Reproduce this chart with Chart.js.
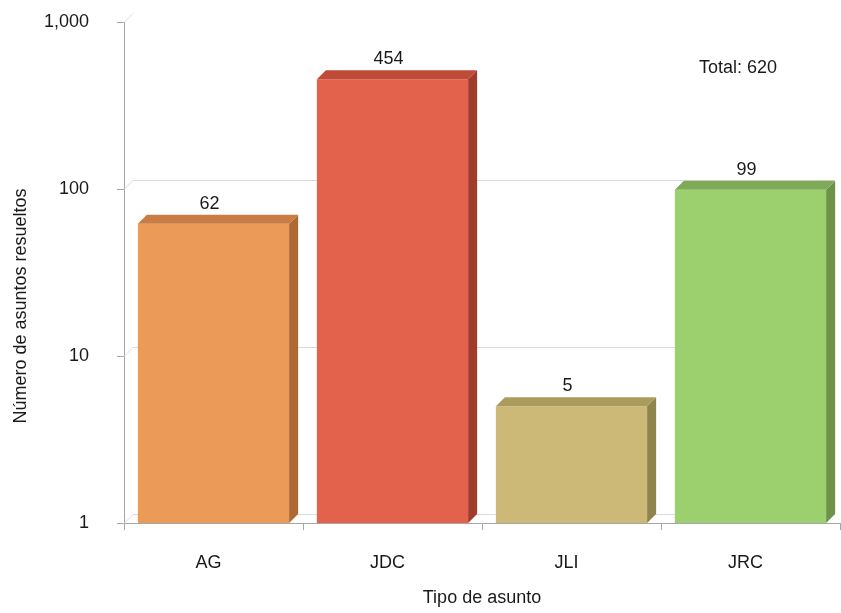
<!DOCTYPE html>
<html>
<head>
<meta charset="utf-8">
<script src="https://cdn.jsdelivr.net/npm/chart.js@4"></script>
<style>
  html, body { margin: 0; padding: 0; background: #fff; }
  #wrap { width: 841px; height: 613px; }
</style>
</head>
<body>
<div id="wrap"><canvas id="chart" width="841" height="613"></canvas></div>
<script>
var fontFamily = '"Liberation Sans", Arial, Helvetica, sans-serif';

var categories = ['AG', 'JDC', 'JLI', 'JRC'];
var values = [62, 454, 5, 99];
var yTicks = [1, 10, 100, 1000];
var frontColors = ['#ec9a58', '#e2624b', '#ccb877', '#9ccf6e'];
var topColors = ['#c97d42', '#c04a38', '#aa9c5c', '#7fab58'];
var sideColors = ['#ad6a33', '#a13b2c', '#8f844c', '#6c9348'];

var depth = 9;
var total = values.reduce(function (a, b) { return a + b; }, 0);

// back wall lines + 3D faces of the bars + value labels
var threeD = {
    id: 'threeD',
    beforeDatasetsDraw: function (chart) {
        var ctx = chart.ctx;
        var area = chart.chartArea;
        var y = chart.scales.y;
        ctx.save();
        ctx.strokeStyle = '#dcdcdc';
        ctx.lineWidth = 1;
        yTicks.forEach(function (v, i) {
            var py = Math.round(y.getPixelForValue(v)) + 0.5;
            ctx.beginPath();
            ctx.moveTo(area.left, py);
            ctx.lineTo(area.left + depth, py - depth);
            if (i < yTicks.length - 1) ctx.lineTo(area.right - 5, py - depth);
            ctx.stroke();
        });
        ctx.restore();
    },
    afterDatasetsDraw: function (chart) {
        var ctx = chart.ctx;
        var meta = chart.getDatasetMeta(0);
        ctx.save();
        meta.data.forEach(function (bar, i) {
            var half = bar.width / 2;
            var l = bar.x - half, r = bar.x + half;
            var t = bar.y, b = bar.base;
            ctx.fillStyle = sideColors[i];
            ctx.beginPath();
            ctx.moveTo(r, t);
            ctx.lineTo(r + depth, t - depth);
            ctx.lineTo(r + depth, b - depth);
            ctx.lineTo(r, b);
            ctx.closePath();
            ctx.fill();
            ctx.fillStyle = topColors[i];
            ctx.beginPath();
            ctx.moveTo(l, t);
            ctx.lineTo(l + depth, t - depth);
            ctx.lineTo(r + depth, t - depth);
            ctx.lineTo(r, t);
            ctx.closePath();
            ctx.fill();

            ctx.fillStyle = '#1a1a1a';
            ctx.font = '18px ' + fontFamily;
            ctx.textAlign = 'center';
            ctx.textBaseline = 'middle';
            ctx.fillText(values[i], bar.x - 4, t - 20);
        });
        ctx.font = '18px ' + fontFamily;
        ctx.fillStyle = '#1a1a1a';
        ctx.textAlign = 'center';
        ctx.textBaseline = 'middle';
        ctx.fillText('Total: ' + total, 738, 68);

        // y axis title, centred on the whole canvas height like the original
        ctx.translate(21, 306);
        ctx.rotate(-Math.PI / 2);
        ctx.fillText('Número de asuntos resueltos', 0, 0);
        ctx.restore();
    }
};

new Chart(document.getElementById('chart'), {
    type: 'bar',
    data: {
        labels: categories,
        datasets: [{
            data: values,
            backgroundColor: frontColors,
            borderWidth: 0,
            categoryPercentage: 1,
            barPercentage: 0.845
        }]
    },
    options: {
        responsive: false,
        animation: false,
        layout: { padding: { top: 22, right: 1, left: 0, bottom: 0 } },
        plugins: {
            legend: { display: false },
            tooltip: { enabled: false }
        },
        scales: {
            x: {
                grid: {
                    offset: true,
                    drawOnChartArea: false,
                    tickLength: 7,
                    color: '#a6a6a6'
                },
                border: { color: '#a6a6a6' },
                ticks: {
                    color: '#1a1a1a',
                    padding: 22,
                    labelOffset: -5,
                    font: { size: 18, family: fontFamily }
                },
                title: {
                    display: true,
                    text: 'Tipo de asunto',
                    color: '#1a1a1a',
                    padding: { top: 0, bottom: 4 },
                    font: { size: 18, family: fontFamily }
                },
                afterFit: function (scale) {
                    scale.height = 90;
                    scale.paddingLeft = 0;
                    scale.paddingRight = 0;
                }
            },
            y: {
                type: 'logarithmic',
                min: 1,
                max: 1000,
                afterBuildTicks: function (scale) {
                    scale.ticks = yTicks.map(function (v) { return { value: v }; });
                },
                grid: {
                    drawOnChartArea: false,
                    tickLength: 7,
                    color: '#a6a6a6'
                },
                border: { color: '#a6a6a6' },
                ticks: {
                    color: '#1a1a1a',
                    padding: 28,
                    font: { size: 18, family: fontFamily },
                    callback: function (v) { return Number(v).toLocaleString('en-US'); }
                },
                afterFit: function (scale) {
                    scale.width = 124;
                    scale.paddingTop = 0;
                    scale.paddingBottom = 0;
                }
            }
        }
    },
    plugins: [threeD]
});
</script>
</body>
</html>
